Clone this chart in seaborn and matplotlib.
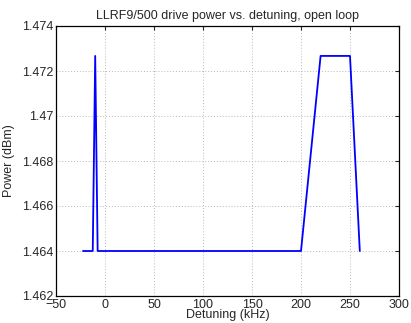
import seaborn as sns
import matplotlib.pyplot as plt
import pandas as pd

# detuning sweep (kHz) and measured drive power (dBm)
detuning = [-22.5, -12.5, -10, -7.5, 200, 220, 250, 260]
power = [1.464, 1.464, 1.47267, 1.464, 1.464, 1.47267, 1.47267, 1.464]

x_ticks = [-50, 0, 50, 100, 150, 200, 250, 300]
y_ticks = [1.462, 1.464, 1.466, 1.468, 1.47, 1.472, 1.474]
y_labels = ['1.462', '1.464', '1.466', '1.468', '1.47', '1.472', '1.474']

sns.set_style('white')
plt.rcParams['font.family'] = ['Liberation Sans', 'DejaVu Sans']
plt.rcParams['font.size'] = 9

df = pd.DataFrame({'detuning': detuning, 'power': power})

fig, ax = plt.subplots(figsize=(4.11, 3.23), dpi=100)
fig.subplots_adjust(left=56 / 411, right=399 / 411, top=1 - 26 / 323, bottom=1 - 296 / 323)

sns.lineplot(data=df, x='detuning', y='power', sort=False, color='#0000ff', lw=1.3, ax=ax)

ax.set_xlim(-50, 300)
ax.set_ylim(1.462, 1.474)
ax.set_xticks(x_ticks)
ax.set_yticks(y_ticks)
ax.set_yticklabels(y_labels)
ax.grid(True, linestyle=(0, (1, 2)), color='#b8b8b8', lw=0.7)
ax.tick_params(direction='in', top=True, right=True, length=3, width=0.8, pad=2, labelsize=9)
for s in ax.spines.values():
    s.set_color('black')
    s.set_linewidth(0.9)

ax.set_title('LLRF9/500 drive power vs. detuning, open loop', fontsize=9, pad=5)
ax.set_xlabel('Detuning (kHz)', fontsize=9, labelpad=-1)
ax.set_ylabel('Power (dBm)', fontsize=9, labelpad=5)

fig.savefig('out.png', dpi=100)
